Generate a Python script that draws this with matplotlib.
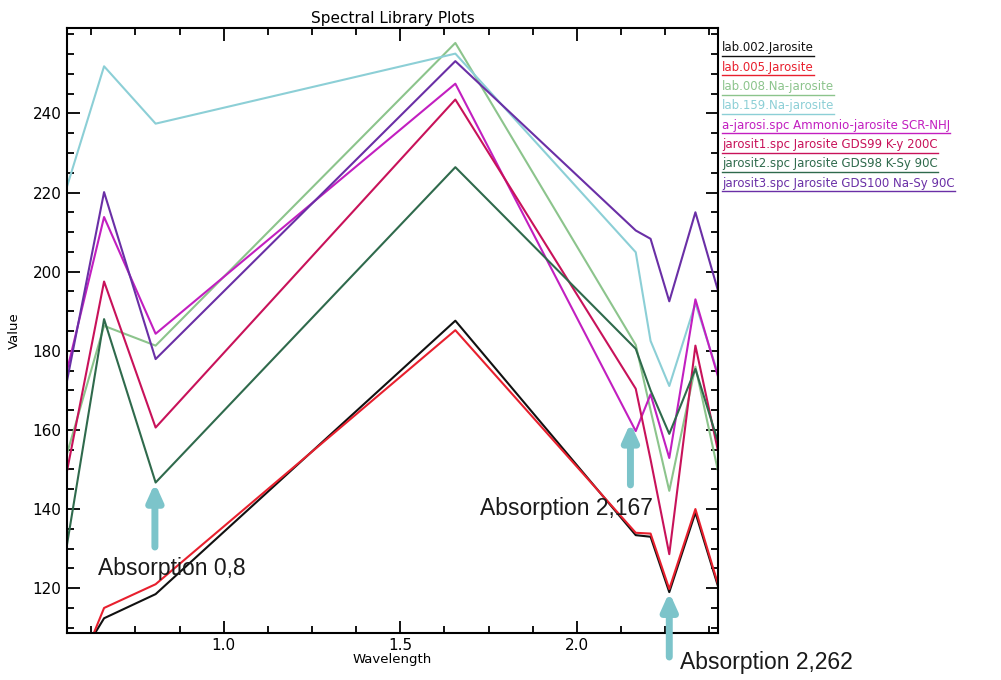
import matplotlib
matplotlib.use("Agg")
import matplotlib.pyplot as plt
from matplotlib.ticker import MultipleLocator, FixedLocator, FormatStrFormatter

# ASTER band centres (um)
wavelength = [0.556, 0.661, 0.807, 1.656, 2.167, 2.209, 2.262, 2.336, 2.400]

lab002 = [97.0, 112.4, 118.5, 187.6, 133.4, 133.0, 119.0, 139.1, 120.5]
lab005 = [92.0, 115.0, 121.0, 185.2, 134.0, 133.8, 119.8, 140.0, 121.0]
lab008 = [154.0, 186.3, 181.3, 257.8, 181.5, 165.0, 144.6, 176.0, 149.6]
lab159 = [221.5, 251.9, 237.4, 255.1, 204.9, 182.5, 171.1, 192.0, 174.2]
ajarosi = [175.0, 213.8, 184.3, 247.5, 159.7, 169.0, 152.9, 193.0, 173.5]
jarosit1 = [149.6, 197.5, 160.6, 243.5, 170.4, 152.5, 128.6, 181.3, 154.7]
jarosit2 = [131.0, 188.0, 146.7, 226.4, 180.5, 170.0, 159.0, 175.4, 157.0]
jarosit3 = [172.4, 220.1, 177.9, 253.2, 210.4, 208.3, 192.5, 215.0, 195.2]

names = ["lab.002.Jarosite",
         "lab.005.Jarosite",
         "lab.008.Na-jarosite",
         "lab.159.Na-jarosite",
         "a-jarosi.spc Ammonio-jarosite SCR-NHJ",
         "jarosit1.spc Jarosite GDS99 K-y 200C",
         "jarosit2.spc Jarosite GDS98 K-Sy 90C",
         "jarosit3.spc Jarosite GDS100 Na-Sy 90C"]
series = [lab002, lab005, lab008, lab159, ajarosi, jarosit1, jarosit2, jarosit3]
colors = ["#111111", "#e8202e", "#8cc48c", "#8ccfd6",
          "#c21fc0", "#c8125a", "#2f6a4c", "#6a2fa6"]

y_major = [120, 140, 160, 180, 200, 220, 240]

# absorption features: (label, arrow x, tip y, tail y)
absorptions = [("Absorption 0,8", 0.805, 146.6, 130.4),
               ("Absorption 2,167", 2.152, 161.8, 146.1),
               ("Absorption 2,262", 2.262, 119.0, 102.6)]
# label positions in figure pixels (left, centre y)
label_pos = [(98, 568), (480, 508), (680, 663)]

W, H = 1001, 680
fig = plt.figure(figsize=(W / 100, H / 100), dpi=100)
ax = fig.add_axes([67 / W, 1 - 632.5 / H, 651 / W, 604.2 / H])

for y, c in zip(series, colors):
    ax.plot(wavelength, y, color=c, lw=1.5)

ax.set_xlim(0.556, 2.400)
ax.set_ylim(108.8, 261.5)
ax.xaxis.set_major_locator(MultipleLocator(0.5))
ax.xaxis.set_minor_locator(MultipleLocator(0.125))
ax.yaxis.set_major_locator(FixedLocator(y_major))
ax.yaxis.set_minor_locator(MultipleLocator(5))
ax.xaxis.set_major_formatter(FormatStrFormatter("%.1f"))
ax.yaxis.set_major_formatter(FormatStrFormatter("%d"))
ax.tick_params(which="both", direction="in", top=True, right=True,
               width=1.3, labelsize=11, pad=4)
ax.tick_params(which="major", length=9)
ax.tick_params(which="minor", length=5)
for s in ax.spines.values():
    s.set_linewidth(1.5)

ax.set_title("Spectral Library Plots", fontsize=11, pad=4)
ax.set_xlabel("Wavelength", fontsize=9.5, labelpad=0)
ax.set_ylabel("Value", fontsize=9.5, labelpad=8)

# legend as underlined coloured text
fig.canvas.draw()
renderer = fig.canvas.get_renderer()
y0 = 48
for i, (n, c) in enumerate(zip(names, colors)):
    yy = y0 + i * 19.3
    t = fig.text(722 / W, 1 - yy / H, n, color=c, fontsize=8.5,
                 ha="left", va="center")
    bb = t.get_window_extent(renderer)
    fig.add_artist(plt.Line2D([722 / W, bb.x1 / W],
                              [1 - (yy + 8) / H, 1 - (yy + 8) / H],
                              color=c, lw=1.0, transform=fig.transFigure))

for (txt, x, tip, tail), (lx, ly) in zip(absorptions, label_pos):
    ax.annotate("", xy=(x, tip), xytext=(x, tail), annotation_clip=False,
                arrowprops=dict(arrowstyle="-|>,head_width=0.45,head_length=1.0",
                                lw=5, color="#7cc4ca", shrinkA=0, shrinkB=0))
    fig.text(lx / W, 1 - ly / H, txt, fontsize=16.5, family="Liberation Sans",
             ha="left", va="center", color="#1a1a1a")

fig.savefig("out.png", dpi=100)
